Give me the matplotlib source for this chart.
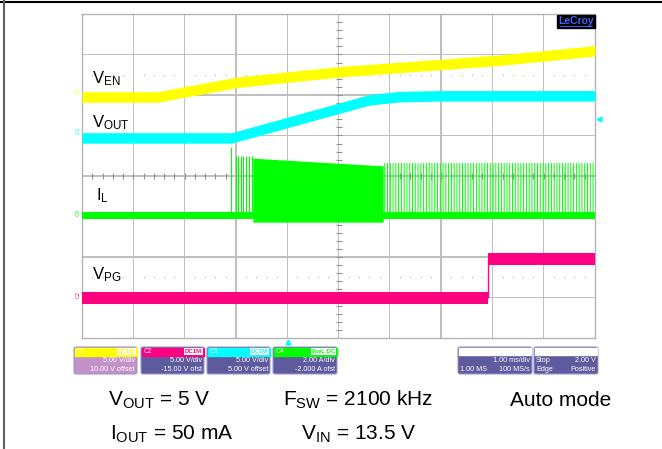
import numpy as np
import matplotlib
matplotlib.use("Agg")
import matplotlib.pyplot as plt
from matplotlib.patches import FancyBboxPatch, Rectangle

plt.rcParams['font.family'] = ['Liberation Sans', 'DejaVu Sans']
plt.rcParams['mathtext.fontset'] = 'custom'
plt.rcParams['mathtext.rm'] = 'Liberation Sans'
plt.rcParams['mathtext.it'] = 'Liberation Sans:italic'
plt.rcParams['hatch.linewidth'] = 0.7

# time in ms (1 ms/div), amplitude in screen divisions
ven_t = [0.0, 1.46, 3.06, 5.0, 8.15, 10.0]
ven_y = [1.95, 1.95, 2.32, 2.57, 2.86, 3.09]

vout_t = [0.0, 2.92, 4.0, 5.0, 5.6, 6.2, 7.0, 10.0]
vout_y = [0.94, 0.94, 1.32, 1.67, 1.88, 1.96, 1.98, 1.98]

il_base = -0.98
il_spike_t = [2.90, 3.01, 3.05, 3.09, 3.13, 3.19, 3.25, 3.31]
il_spike_y = [0.72, 0.49, 0.49, 0.49, 0.49, 0.49, 0.49, 0.49]
il_dense_t = [3.33, 5.87]
il_dense_top = [0.44, 0.25]
il_dense_bot = -1.14
il_burst_t = [5.87, 10.0]
il_burst_top = 0.32

vpg_t = [0.0, 7.91, 7.91, 10.0]
vpg_y = [-3.01, -3.01, -2.05, -2.05]

YEL = '#ffff00'
CYN = '#00ffff'
GRN = '#00ff00'
MAG = '#ff0080'
GRID = '#c0c0c0'

fig = plt.figure(figsize=(6.62, 4.49), dpi=100)
W, H = 662, 449

# scope screen, drawn in pixel space so the grid sits on whole pixels
x0, x1, y0, y1 = 82, 595, 14, 338
ax = fig.add_axes([x0 / W, (H - y1) / H, (x1 - x0) / W, (y1 - y0) / H])
ax.set_xlim(0, 10)
ax.set_ylim(-4, 4)
ax.set_xticks([])
ax.set_yticks([])
for s in ax.spines.values():
    s.set_color('#b4b4b4')
    s.set_linewidth(1.0)
for gx in range(1, 10):
    ax.add_patch(Rectangle((gx - 0.012, -4), 0.024, 8, facecolor=GRID, edgecolor='none', zorder=1))
for gy in range(-3, 4):
    ax.add_patch(Rectangle((0, gy - 0.015), 10, 0.03, facecolor=GRID, edgecolor='none', zorder=1))
# centre cross ticks
sub = np.arange(0, 10.01, 0.2)
ax.plot(sub, np.zeros_like(sub), '|', color='#909090', ms=4, mew=0.8, zorder=1)
suby = np.arange(-4, 4.01, 0.2)
ax.plot(np.full_like(suby, 5.0), suby, '_', color='#909090', ms=4, mew=0.8, zorder=1)
# dotted rows
dots = np.array([v for v in sub if abs(v - round(v)) > 0.05])
for ry in (2.5, -2.5):
    ax.plot(dots, np.full_like(dots, ry), 's', color='#bcbcbc', ms=0.9, mew=0, zorder=1)

# traces (drawn as noise bands)
hw = 0.13
ax.fill_between(ven_t, np.array(ven_y) - hw, np.array(ven_y) + hw, color=YEL, lw=0, zorder=3)
ax.fill_between(vout_t, np.array(vout_y) - hw, np.array(vout_y) + hw, color=CYN, lw=0, zorder=3)

ax.fill_between([0, 10], il_base - 0.09, il_base + 0.09, color=GRN, lw=0, zorder=3)
ax.vlines(il_spike_t, il_base, il_spike_y, color=GRN, lw=0.8, zorder=3)
ax.fill_between(il_dense_t, il_dense_bot, il_dense_top, color=GRN, lw=0, zorder=3)
ax.fill_between(il_burst_t, il_base, il_burst_top, facecolor='none', edgecolor=GRN,
                hatch='||||||', lw=0, zorder=2)

ax.fill_between(vpg_t, np.array(vpg_y) - 0.14, np.array(vpg_y) + 0.14, color=MAG, lw=0, zorder=3)
ax.vlines(vpg_t[1], vpg_y[1], vpg_y[2], color=MAG, lw=1.0, zorder=3)

# overlay in pixel coordinates
ov = fig.add_axes([0, 0, 1, 1])
ov.set_xlim(0, W)
ov.set_ylim(H, 0)
ov.axis('off')

ov.hlines(1.5, 0, W, color='black', lw=1.5)
ov.vlines(3.5, 0, H, color='#606060', lw=1.5)

# LeCroy badge
ov.add_patch(Rectangle((557, 15), 38, 13, color='black', zorder=5))
ov.text(576, 21.5, 'LeCroy', color='#4060ff', fontsize=7.5, ha='center', va='center',
        fontweight='bold', zorder=6)
ov.hlines(26, 560, 592, color='#4060ff', lw=0.7, zorder=6)

# trace labels
lab = dict(fontsize=12, color='black', va='baseline', ha='left', zorder=6)
ov.text(92, 83, r'V$_{\mathregular{EN}}$', **lab)
ov.text(92, 127, r'V$_{\mathregular{OUT}}$', **lab)
ov.text(96, 200, r'I$_{\mathregular{L}}$', **lab)
ov.text(92, 279, r'V$_{\mathregular{PG}}$', **lab)

# channel markers on the left edge
for name, col, py in (('C1', YEL, 91), ('C3', CYN, 131), ('C4', GRN, 212), ('C2', MAG, 295)):
    ov.text(78, py, name, color=col, fontsize=4, rotation=90, ha='center', va='center', zorder=6)

ov.plot(599, 119, marker='<', color=CYN, ms=3.5, zorder=6)
ov.plot(288, 342, marker='^', color=CYN, ms=3.5, zorder=6)

# channel info boxes
def chan_box(bx0, bx1, head, body, name, tag, l1, l2):
    ov.add_patch(FancyBboxPatch((bx0, 347), bx1 - bx0, 27, boxstyle='round,pad=0,rounding_size=2',
                                facecolor=body, edgecolor='#9c98cc', lw=0.8, zorder=5))
    ov.add_patch(Rectangle((bx0 + 0.5, 347.5), bx1 - bx0 - 1, 8, color=head, zorder=6))
    ov.text(bx0 + 3, 351.5, name, color='white', fontsize=4.8, va='center', ha='left', zorder=7)
    ov.text(bx1 - 2, 351.5, tag, color=head, fontsize=4.4, va='center', ha='right', zorder=8,
            fontweight='bold', bbox=dict(boxstyle='square,pad=0.1', fc='white', ec='none'))
    ov.text(bx1 - 2, 361, l1, color='white', fontsize=5.2, va='center', ha='right', zorder=7)
    ov.text(bx1 - 2, 369.5, l2, color='white', fontsize=5.2, va='center', ha='right', zorder=7)

chan_box(74, 137, YEL, '#c490c8', 'C1', 'DC1M', '5.00 V/div', '10.00 V offset')
chan_box(141, 204, MAG, '#5e5a9e', 'C2', 'DC1M', '5.00 V/div', '-15.00 V ofst')
chan_box(207, 270, CYN, '#5e5a9e', 'C3', 'DC1M', '5.00 V/div', '5.00 V offset')
chan_box(273, 337, GRN, '#5e5a9e', 'C4', 'BwL DC', '2.00 A/div', '-2.000 A ofst')

def info_box(bx0, bx1, tl1, tr1, tl2, tr2):
    ov.add_patch(FancyBboxPatch((bx0, 347), bx1 - bx0, 27, boxstyle='round,pad=0,rounding_size=2',
                                facecolor='#5e5a9e', edgecolor='#9c98cc', lw=0.8, zorder=5))
    ov.add_patch(Rectangle((bx0 + 1, 348), bx1 - bx0 - 2, 7, color='white', zorder=6))
    if tl1:
        ov.text(bx0 + 2, 361, tl1, color='white', fontsize=5.2, va='center', ha='left', zorder=7)
    ov.text(bx1 - 2, 361, tr1, color='white', fontsize=5.2, va='center', ha='right', zorder=7)
    ov.text(bx0 + 2, 369.5, tl2, color='white', fontsize=5.2, va='center', ha='left', zorder=7)
    ov.text(bx1 - 2, 369.5, tr2, color='white', fontsize=5.2, va='center', ha='right', zorder=7)

info_box(458, 532, '', '1.00 ms/div', '1.00 MS', '100 MS/s')
info_box(534, 598, 'Stop', '2.00 V', 'Edge', 'Positive')

# test conditions
cond = dict(fontsize=15, color='black', va='baseline', ha='left')
ov.text(108, 406, r'V$_{\mathregular{OUT}}$ = 5 V', **cond)
ov.text(283, 406, r'F$_{\mathregular{SW}}$ = 2100 kHz', **cond)
ov.text(510, 406, 'Auto mode', **cond)
ov.text(110, 440, r'I$_{\mathregular{OUT}}$ = 50 mA', **cond)
ov.text(301, 440, r'V$_{\mathregular{IN}}$ = 13.5 V', **cond)

fig.savefig('out.png', dpi=100)
